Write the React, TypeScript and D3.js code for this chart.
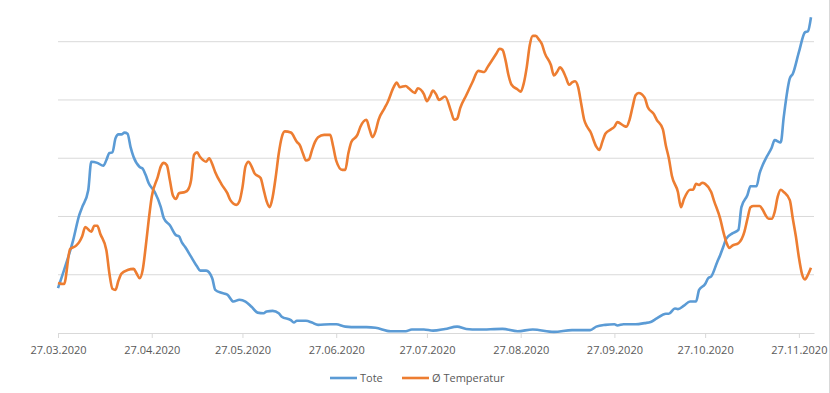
import React, { useRef, useEffect } from 'react';
import * as d3 from 'd3';

// day offset from 27.03.2020, value
const toteSeries: [number, number][] = [
  [0, 77], [2, 108], [5, 159], [7, 202], [8, 216], [10, 245], [11, 294], [13, 292], [15, 287], [16, 297],
  [17, 309], [18, 310], [19, 334], [20, 341], [21, 341], [22, 344], [23, 342], [24, 319], [25, 302], [27, 285],
  [28, 282], [29, 271], [30, 257], [32, 242], [34, 216], [35, 197], [37, 185], [39, 168], [40, 166], [41, 155],
  [42, 148], [44, 131], [46, 114], [47, 107], [49, 107], [51, 94], [52, 74], [54, 69], [56, 66], [58, 54],
  [60, 57], [62, 54], [64, 45], [66, 35], [68, 34], [69, 37], [71, 38], [73, 34], [74, 28], [77, 22],
  [78, 18], [79, 21], [82, 21], [84, 18], [86, 14], [90, 15], [92, 15], [95, 11], [99, 10], [102, 10],
  [105, 9], [110, 3], [115, 3], [117, 6], [121, 6], [124, 4], [128, 7], [132, 11], [135, 7], [139, 6],
  [147, 7], [152, 3], [157, 6], [164, 2], [170, 5], [176, 5], [178, 11], [181, 14], [184, 15], [185, 13],
  [187, 15], [191, 15], [194, 17], [196, 19], [198, 25], [201, 33], [202, 33], [204, 42], [205, 41], [207, 47],
  [209, 54], [211, 54], [212, 74], [214, 84], [215, 94], [216, 97], [218, 122], [219, 134], [220, 148], [221, 162],
  [223, 171], [225, 177], [226, 216], [228, 237], [229, 252], [231, 252], [232, 274], [233, 288], [234, 299], [236, 318],
  [237, 331], [239, 327], [240, 371], [242, 437], [243, 445], [245, 482], [247, 516], [248, 518], [249, 542],
];

const tempSeries: [number, number][] = [
  [0, 4.3], [2, 4.2], [4, 7.2], [6, 7.5], [7, 7.8], [8, 8.3], [9, 9.1], [11, 8.7], [12, 9.2], [13, 9.2],
  [14, 8.5], [16, 7.1], [17, 5.1], [18, 3.8], [19, 3.7], [20, 4.5], [21, 5.1], [23, 5.4], [25, 5.5], [26, 5.1],
  [27, 4.7], [28, 5.4], [29, 7.4], [30, 9.7], [31, 11.7], [33, 13.4], [34, 14.3], [35, 14.6], [36, 14.4], [37, 13.1],
  [38, 11.8], [39, 11.5], [40, 12.0], [42, 12.1], [43, 12.3], [44, 13.1], [45, 15.3], [46, 15.5], [47, 15.1], [49, 14.7],
  [50, 15.0], [51, 14.5], [52, 13.8], [54, 12.8], [56, 12.0], [57, 11.4], [59, 11.0], [60, 11.3], [61, 12.5], [62, 14.3],
  [63, 14.7], [64, 14.3], [65, 13.7], [67, 13.3], [68, 12.3], [69, 11.3], [70, 10.8], [71, 11.7], [72, 13.4], [73, 15.4],
  [74, 16.8], [75, 17.3], [77, 17.2], [79, 16.4], [80, 16.1], [81, 15.4], [82, 14.8], [83, 14.9], [84, 15.7], [85, 16.4],
  [86, 16.8], [88, 17.0], [90, 17.0], [91, 16.0], [92, 14.8], [94, 14.0], [95, 14.0], [96, 15.4], [97, 16.4], [99, 17.0],
  [100, 17.7], [102, 18.3], [103, 17.5], [104, 16.8], [105, 17.3], [106, 18.3], [108, 19.3], [109, 19.8], [111, 21.1], [112, 21.5],
  [113, 21.1], [115, 21.2], [116, 21.0], [118, 20.6], [119, 21.0], [121, 20.5], [122, 19.9], [123, 20.3], [124, 20.8], [125, 20.5],
  [126, 20.0], [128, 20.3], [130, 19.0], [131, 18.3], [132, 18.4], [133, 19.3], [135, 20.4], [137, 21.5], [139, 22.5], [141, 22.4],
  [142, 22.8], [143, 23.2], [145, 24.0], [146, 24.4], [147, 24.3], [148, 23.4], [149, 22.1], [150, 21.3], [152, 20.9], [153, 20.7],
  [154, 21.4], [155, 22.8], [156, 24.7], [157, 25.5], [158, 25.5], [159, 25.2], [160, 24.8], [161, 24.0], [163, 23.0], [164, 22.1],
  [165, 22.4], [166, 22.8], [167, 22.5], [168, 21.9], [169, 21.3], [170, 21.5], [171, 21.6], [172, 21.1], [173, 19.7], [174, 18.3],
  [175, 17.7], [176, 17.3], [178, 16.0], [179, 15.7], [180, 16.4], [181, 17.1], [183, 17.5], [184, 17.7], [185, 18.1], [187, 17.8],
  [188, 17.7], [189, 18.3], [190, 19.4], [191, 20.4], [192, 20.6], [194, 20.2], [195, 19.4], [197, 18.8], [198, 18.3], [200, 17.5],
  [201, 16.1], [202, 15.0], [203, 13.5], [205, 12.1], [206, 10.8], [207, 11.5], [209, 12.3], [210, 12.3], [211, 12.8], [212, 12.7],
  [213, 12.9], [214, 12.8], [216, 12.1], [217, 11.3], [219, 9.8], [220, 8.7], [221, 7.8], [222, 7.3], [223, 7.5], [225, 7.7],
  [227, 8.7], [228, 9.8], [229, 10.8], [230, 10.9], [232, 10.9], [233, 10.6], [234, 10.1], [235, 9.8], [236, 9.8], [237, 10.4],
  [238, 11.7], [239, 12.3], [240, 12.1], [242, 11.4], [243, 9.8], [244, 8.3], [245, 6.5], [246, 5.1], [247, 4.6], [248, 5.0],
  [249, 5.6],
];

const tickLabels = [
  '27.03.2020', '27.04.2020', '27.05.2020', '27.06.2020', '27.07.2020',
  '27.08.2020', '27.09.2020', '27.10.2020', '27.11.2020',
];
const toteGrid = [100, 200, 300, 400, 500];
const seriesNames = ['Tote', 'Ø Temperatur'];
const colors = ['#5B9BD5', '#ED7D31'];

const startDate = Date.UTC(2020, 2, 27);
const dayToDate = (d: number) => d3.utcDay.offset(new Date(startDate), d);
const parseLabel = d3.utcParse('%d.%m.%Y');

const App: React.FC = () => {
  const svgRef = useRef<SVGSVGElement>(null);

  useEffect(() => {
    document.body.style.margin = '0';
    if (!svgRef.current) return;

    const width = 830;
    const height = 393;
    const left = 58;
    const right = 814;
    const bottom = 333;
    const top = 41.7;
    const font = "'Open Sans', sans-serif";

    const svg = d3.select(svgRef.current)
      .attr('width', width)
      .attr('height', height);
    svg.selectAll('*').remove();

    svg.append('rect').attr('width', width).attr('height', height).attr('fill', '#fff');

    const x = d3.scaleUtc()
      .domain([dayToDate(0), dayToDate(250)])
      .range([left, right]);
    const yTote = d3.scaleLinear().domain([0, 500]).range([bottom, top]);
    const yTemp = d3.scaleLinear().domain([0, 25]).range([bottom, top]);

    // gridlines
    svg.append('g')
      .selectAll('line')
      .data(toteGrid)
      .enter()
      .append('line')
      .attr('x1', left)
      .attr('x2', right)
      .attr('y1', d => yTote(d))
      .attr('y2', d => yTote(d))
      .attr('stroke', '#d9d9d9')
      .attr('stroke-width', 1);

    // x axis
    const tickDates = tickLabels.map(t => parseLabel(t) as Date);
    const axis = svg.append('g')
      .attr('transform', `translate(0,${bottom})`)
      .call(d3.axisBottom(x)
        .tickValues(tickDates)
        .tickFormat((_, i) => tickLabels[i])
        .tickSize(5)
        .tickSizeOuter(0)
        .tickPadding(8));
    axis.select('.domain').attr('stroke', '#d9d9d9');
    axis.selectAll('.tick line').attr('stroke', '#d9d9d9');
    axis.selectAll('.tick text')
      .attr('fill', '#595959')
      .style('font-family', font)
      .style('font-size', '11px');

    const toteLine = d3.line<[number, number]>()
      .x(d => x(dayToDate(d[0])))
      .y(d => yTote(d[1]))
      .curve(d3.curveMonotoneX);
    const tempLine = d3.line<[number, number]>()
      .x(d => x(dayToDate(d[0])))
      .y(d => yTemp(d[1]))
      .curve(d3.curveMonotoneX);

    svg.append('path')
      .datum(toteSeries)
      .attr('d', toteLine)
      .attr('fill', 'none')
      .attr('stroke', colors[0])
      .attr('stroke-width', 2.6)
      .attr('stroke-linejoin', 'round');

    svg.append('path')
      .datum(tempSeries)
      .attr('d', tempLine)
      .attr('fill', 'none')
      .attr('stroke', colors[1])
      .attr('stroke-width', 2.6)
      .attr('stroke-linejoin', 'round');

    // legend
    const legendPos = [330, 402];
    const legend = svg.append('g');
    seriesNames.forEach((name, i) => {
      const lg = legend.append('g').attr('transform', `translate(${legendPos[i]},378)`);
      lg.append('line')
        .attr('x1', 0)
        .attr('x2', 27)
        .attr('stroke', colors[i])
        .attr('stroke-width', 2.6);
      lg.append('text')
        .attr('x', 30)
        .attr('dy', '0.35em')
        .attr('fill', '#595959')
        .style('font-family', font)
        .style('font-size', '11px')
        .text(name);
    });

    svg.append('line')
      .attr('x1', width - 0.5)
      .attr('x2', width - 0.5)
      .attr('y1', 0)
      .attr('y2', height)
      .attr('stroke', '#d9d9d9');
  }, []);

  return (
    <div>
      <svg ref={svgRef} style={{ display: 'block' }} />
    </div>
  );
};

export default App;
